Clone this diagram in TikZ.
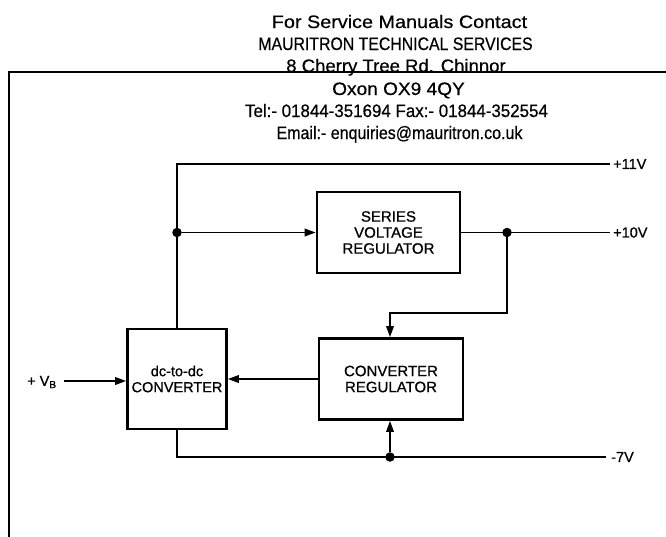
\documentclass[tikz,border=0pt]{standalone}
\usepackage{fontspec}
\setmainfont{Liberation Sans}
\newfontfamily\lblfont[FakeBold=0.8]{Liberation Sans}
\newfontfamily\hdrfont[FakeBold=0.5]{Liberation Sans}
\usetikzlibrary{arrows.meta}
\begin{document}
\begin{tikzpicture}[x=1pt,y=-1pt,
  blk/.style={draw,line width=2.6pt,inner sep=0pt,align=center,font=\lblfont\fontsize{15}{16}\selectfont},
  wire/.style={line width=1.8pt},
  arr/.style={wire,-{Triangle[length=11pt,width=7.5pt]}},
  jdot/.style={circle,fill,inner sep=0pt,minimum size=9.5pt},
  lab/.style={font=\lblfont\fontsize{14.5}{15}\selectfont,anchor=west,inner sep=0pt},
  hdr/.style={font=\hdrfont\fontsize{18}{18}\selectfont,anchor=base,inner sep=0pt}]
\useasboundingbox (0,0) rectangle (666,536);
% header
\node[hdr] (h1) at (399.5,28) {\scalebox{1.10}[1]{For Service Manuals Contact}};
\node[hdr] (h2) at (395.5,50) {\scalebox{0.88}[1]{MAURITRON TECHNICAL SERVICES}};
\node[hdr] (h3) at (396,72) {\scalebox{1.03}[1]{8 Cherry Tree Rd. Chinnor}};
\node[hdr] (h4) at (398.5,95) {\scalebox{1.06}[1]{Oxon OX9 4QY}};
\node[hdr] (h5) at (396.5,117) {\scalebox{0.94}[1]{Tel:- 01844-351694 Fax:- 01844-352554}};
\node[hdr] (h6) at (399.5,139) {\scalebox{0.89}[1]{Email:- enquiries@mauritron.co.uk}};
% frame
\draw[line width=2.4pt] (9,537) -- (9,72) -- (667,72);
% blocks
\node[blk,minimum width=143pt,minimum height=81pt] (svr) at (388.5,232.5) {SERIES\\VOLTAGE\\REGULATOR};
\node[blk,minimum width=144pt,minimum height=81pt] (cr) at (391,379) {CONVERTER\\REGULATOR};
\node[blk,minimum width=99pt,minimum height=100pt,font=\lblfont\fontsize{14.5}{16}\selectfont] (dc) at (177,379) {dc-to-dc\\CONVERTER};
% +11V rail
\coordinate (c11) at (177,164);
\coordinate (e11) at (610,164);
\draw[wire] (dc.north) -- (c11) -- (e11);
\node[lab] (l11) at (613,164) {+11V};
\node[jdot] (j1) at (177,232.5) {};
\draw[arr] (j1) -- (svr.west);
% +10V rail
\coordinate (e10) at (610,232.5);
\draw[wire] (svr.east) -- (e10);
\node[lab] (l10) at (613,232.5) {+10V};
\node[jdot] (j2) at (507,232.5) {};
\coordinate (fb1) at (507,313);
\coordinate (fb2) at (390,313);
\draw[arr] (j2) -- (fb1) -- (fb2) -- (fb2 |- cr.north);
% regulator to converter
\draw[arr] (cr.west) -- (dc.east);
% +VB input
\coordinate (vb) at (64,381);
\node[lab] (lvb) at (27,382) {+ V\textsubscript{B}};
\draw[arr] (vb) -- (vb -| dc.west);
% -7V rail
\coordinate (b1) at (177,457);
\coordinate (e7) at (606,457);
\draw[wire] (dc.south) -- (b1) -- (e7);
\node[lab] (l7) at (611,457) {-7V};
\node[jdot] (j3) at (390,457) {};
\draw[arr] (j3) -- (j3 |- cr.south);
\end{tikzpicture}
\end{document}
